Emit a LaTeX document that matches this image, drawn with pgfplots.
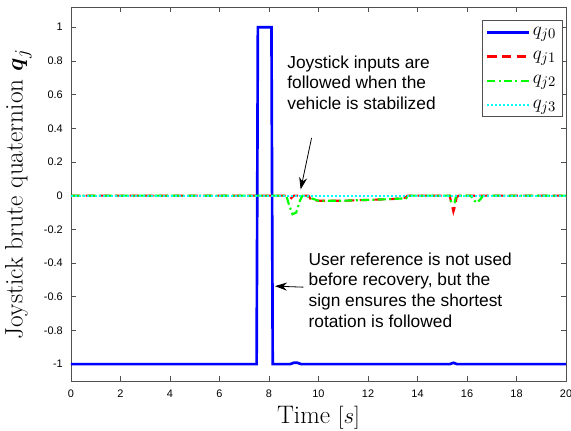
\documentclass[border=0pt]{standalone}
\usepackage{amsmath}
\usepackage{pgfplots}
\pgfplotsset{compat=1.18}
\usepackage{fontspec}
\newfontfamily\arial{Liberation Sans}
\usetikzlibrary{arrows.meta}
\definecolor{mblue}{RGB}{0,0,255}
\definecolor{mred}{RGB}{255,0,0}
\definecolor{mgreen}{RGB}{0,255,0}
\definecolor{mcyan}{RGB}{0,255,255}
\definecolor{framec}{RGB}{80,80,80}
\begin{document}
\begin{tikzpicture}
\begin{axis}[
  scale only axis,
  width=371.25pt, height=280.5pt,
  xmin=0, xmax=20, ymin=-1.1, ymax=1.12,
  xtick={0,2,...,20},
  ytick={-1,-0.8,...,1.01},
  tick align=inside,
  major tick length=3.5pt,
  axis line style={framec, line width=0.6pt},
  every tick/.style={framec, line width=0.6pt},
  /pgf/number format/assume math mode=true,
  yticklabel style={font=\arial\fontsize{8.2}{10}\selectfont, /pgf/number format/fixed, /pgf/number format/precision=1,
    anchor=east, inner sep=0pt, xshift=-6pt},
  xticklabel style={font=\arial\fontsize{8.2}{10}\selectfont, anchor=base, inner sep=0pt, yshift=-12.75pt},
  xlabel={Time $[s]$},
  ylabel={Joystick brute quaternion $\boldsymbol{q}_j$},
  label style={font=\fontsize{19}{22}\selectfont},
  xlabel style={at={(axis description cs:0.5,0)}, anchor=base, inner sep=0pt, yshift=-32.25pt},
  ylabel style={at={(axis description cs:0,0.5)}, anchor=center, inner sep=0pt, rotate=0, yshift=39.5pt},
  legend style={at={(0.994,0.965)}, anchor=north east, draw=framec, line width=0.6pt,
    font=\fontsize{15}{17}\selectfont, row sep=6.5pt, inner sep=3pt},
  legend cell align=left,
  legend image code/.code={\draw[#1] (0pt,0pt) -- (31pt,0pt);},
]
\addplot[mblue, line width=2pt] coordinates {
 (0,-1) (7.5,-1) (7.55,1) (8.1,1) (8.15,-1) (8.85,-1) (9.0,-0.992) (9.15,-0.992) (9.3,-1)
 (15.3,-1) (15.45,-0.992) (15.6,-1) (20,-1)};
\addlegendentry{$q_{j0}$}
\addplot[mred, line width=1.6pt, dash pattern=on 7pt off 4pt] coordinates {
 (0,0) (8.8,0) (8.9,-0.015) (9.0,0) (9.6,0) (9.7,-0.025) (10,-0.03) (11,-0.03) (12,-0.025) (13,-0.02) (13.5,-0.012) (13.6,0)
 (15.3,0) (15.38,-0.05) (15.45,-0.095) (15.52,-0.06) (15.58,-0.01) (15.65,0)
 (16.3,0) (16.42,-0.012) (16.5,0) (20,0)};
\addlegendentry{$q_{j1}$}
\addplot[mgreen, line width=1.6pt, dash pattern=on 6pt off 2.5pt on 1.5pt off 2.5pt] coordinates {
 (0,0) (8.7,0) (8.8,-0.05) (8.95,-0.11) (9.1,-0.1) (9.25,-0.03) (9.35,0) (9.5,0) (9.7,-0.015) (10,-0.03) (11,-0.03) (12,-0.025) (13,-0.02) (13.55,-0.015) (13.6,0)
 (15.3,0) (15.36,-0.04) (15.5,-0.04) (15.56,0)
 (16.15,0) (16.3,-0.03) (16.4,-0.042) (16.55,-0.02) (16.65,0) (20,0)};
\addlegendentry{$q_{j2}$}
\addplot[mcyan, line width=1.6pt, dash pattern=on 1.5pt off 1.5pt] coordinates {(0,0) (20,0)};
\addlegendentry{$q_{j3}$}
\node[anchor=base west, inner sep=0pt, align=left, font=\arial\fontsize{13}{15.4}\selectfont]
  at (axis cs:8.73,0.513) {Joystick inputs are\\followed when the\\vehicle is stabilized};
\node[anchor=base west, inner sep=0pt, align=left, font=\arial\fontsize{13}{15.5}\selectfont]
  at (axis cs:9.59,-0.780) {User reference is not used\\before recovery, but the\\sign ensures the shortest\\rotation is followed};
\draw[-{Stealth[length=9pt,width=6pt]}, line width=0.6pt] (axis cs:9.72,0.343) -- (axis cs:9.28,0.037);
\draw[-{Stealth[length=9pt,width=6pt]}, line width=0.6pt] (axis cs:9.39,-0.543) -- (axis cs:8.24,-0.537);
\coordinate (SW) at (rel axis cs:0,0);
\coordinate (NE) at (rel axis cs:1,1);
\end{axis}
\pgfresetboundingbox
\path[use as bounding box] ([shift={(-53.25pt,-37.5pt)}]SW) rectangle ([shift={(3.75pt,5.25pt)}]NE);
\end{tikzpicture}
\end{document}
